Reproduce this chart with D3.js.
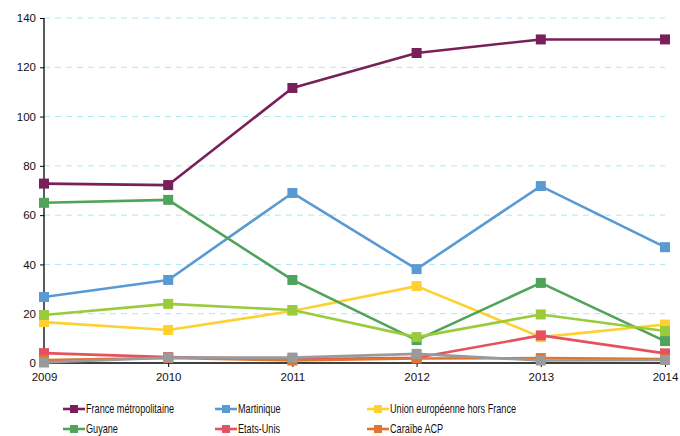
<!DOCTYPE html>
<html><head><meta charset="utf-8">
<script src="https://cdn.jsdelivr.net/npm/d3@7"></script>
<style>body{margin:0;background:#fff}text{font-family:"Liberation Sans",Arial,sans-serif}</style>
</head><body><svg id="c" width="680" height="436"></svg>
<script>
const years = [2009, 2010, 2011, 2012, 2013, 2014];
const yTicks = [0, 20, 40, 60, 80, 100, 120, 140];
const franceMetro = [72.8, 72.2, 111.6, 125.8, 131.3, 131.3];
const martinique = [26.8, 33.7, 69, 38.1, 71.8, 47];
const ueHorsFrance = [16.6, 13.4, 21.1, 31.2, 10.5, 15.6];
const guyane = [65, 66.2, 33.7, 9.3, 32.5, 8.9];
const etatsUnis = [4, 2.4, 1.5, 2.1, 11.2, 3.9];
const caraibeACP = [1.2, 2, 1, 1.8, 2, 1.6];
const autre1 = [19.5, 24, 21.5, 10.5, 19.7, 13];
const autre2 = [0.2, 2.2, 2.2, 3.7, 1, 1.2];

const series = [
  {name: "France métropolitaine", values: franceMetro, color: "#79205A", legend: true},
  {name: "Martinique", values: martinique, color: "#5A9AD2", legend: true},
  {name: "Union européenne hors France", values: ueHorsFrance, color: "#FDD12F", legend: true},
  {name: "Guyane", values: guyane, color: "#50A35B", legend: true},
  {name: "Etats-Unis", values: etatsUnis, color: "#E4525D", legend: true},
  {name: "Caraïbe ACP", values: caraibeACP, color: "#E07430", legend: true},
  {name: "Autre 1", values: autre1, color: "#9ACB3C", legend: false},
  {name: "Autre 2", values: autre2, color: "#9A9A9A", legend: false}
];

const svg = d3.select("#c");
const x = d3.scaleLinear().domain([2009, 2014]).range([44, 665]);
const y = d3.scaleLinear().domain([0, 140]).range([363, 18]);

// gridlines
svg.append("g").selectAll("line").data(yTicks.filter(d => d > 0)).join("line")
  .attr("x1", 44).attr("x2", 665).attr("y1", d => y(d)).attr("y2", d => y(d))
  .attr("stroke", "#A8EAF5").attr("stroke-width", 1).attr("stroke-dasharray", "6,5");

// axes
const yAxis = svg.append("g").attr("transform", "translate(44,0)")
  .call(d3.axisLeft(y).tickValues(yTicks).tickSize(4).tickPadding(4).tickFormat(d3.format("d")));
const xAxis = svg.append("g").attr("transform", "translate(0,363)")
  .call(d3.axisBottom(x).tickValues(years).tickSize(4).tickPadding(6).tickFormat(d3.format("d")));
[yAxis, xAxis].forEach(a => {
  a.select(".domain").attr("stroke", "#000").attr("stroke-width", 1.3);
  a.selectAll(".tick line").attr("stroke", "#000");
  a.selectAll("text").attr("font-size", 11.5).attr("fill", "#111").attr("font-family", "Liberation Sans, Arial, sans-serif");
});
yAxis.select(".domain").attr("d", "M0,18V363");
xAxis.select(".domain").attr("d", "M44,0H665");

const line = d3.line().x((d, i) => x(years[i])).y(d => y(d));
const ms = 10;
series.forEach(s => {
  const g = svg.append("g");
  g.append("path").datum(s.values).attr("d", line).attr("fill", "none")
    .attr("stroke", s.color).attr("stroke-width", 2.6).attr("stroke-linejoin", "round");
  g.selectAll("rect").data(s.values).join("rect")
    .attr("x", (d, i) => x(years[i]) - ms / 2).attr("y", d => y(d) - ms / 2)
    .attr("width", ms).attr("height", ms).attr("fill", s.color);
});

// legend
const leg = series.filter(s => s.legend);
const colX = [63, 215, 367];
const rowY = [409, 429];
leg.forEach((s, i) => {
  const lx = colX[i % 3], ly = rowY[Math.floor(i / 3)];
  const g = svg.append("g");
  g.append("line").attr("x1", lx).attr("x2", lx + 22).attr("y1", ly).attr("y2", ly)
    .attr("stroke", s.color).attr("stroke-width", 2.6);
  g.append("rect").attr("x", lx + 7).attr("y", ly - 4).attr("width", 8).attr("height", 8).attr("fill", s.color);
  g.append("text").attr("transform", `translate(${lx + 23},${ly + 4}) scale(0.76,1)`)
    .attr("font-size", 12).attr("fill", "#111").text(s.name);
});
</script></body></html>
